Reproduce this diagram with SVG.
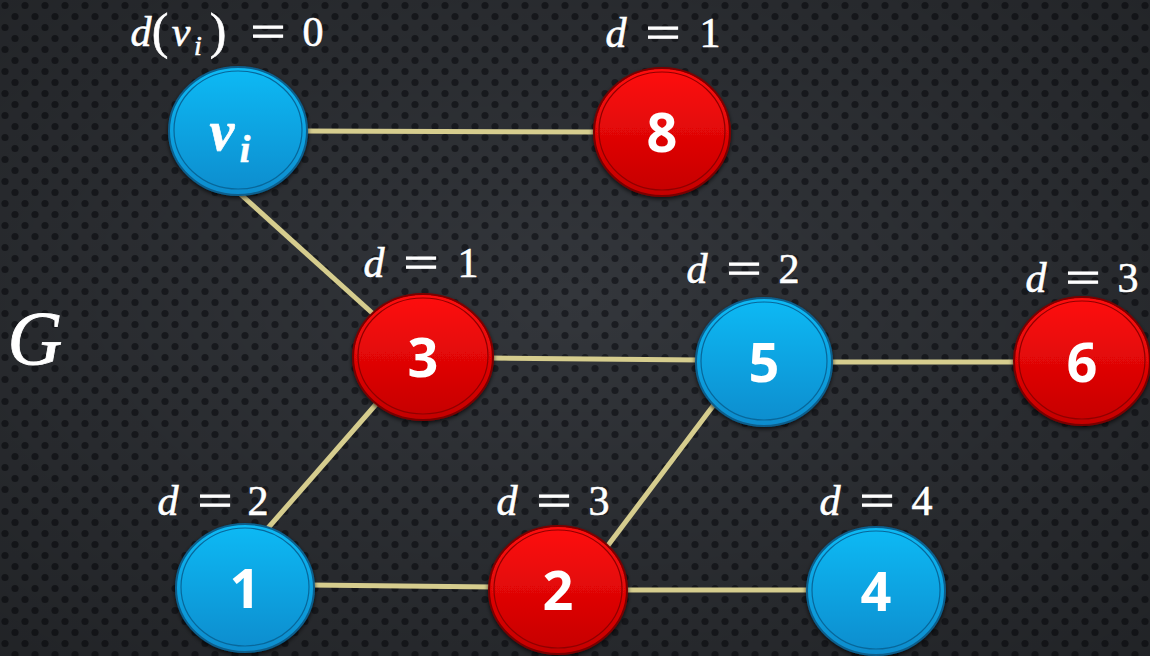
<svg xmlns="http://www.w3.org/2000/svg" width="1150" height="656" viewBox="0 0 1150 656">
<defs>
<pattern id="dots" width="20" height="22" patternUnits="userSpaceOnUse">
<rect width="20" height="22" fill="#33363b"/>
<circle cx="5" cy="5.5" r="3.6" fill="#1b1d22"/>
<circle cx="15" cy="16.5" r="3.6" fill="#1b1d22"/>
</pattern>
<radialGradient id="vig" cx="0.5" cy="0.45" r="0.75">
<stop offset="0" stop-color="#000" stop-opacity="0"/>
<stop offset="1" stop-color="#000" stop-opacity="0.35"/>
</radialGradient>
<linearGradient id="gb" x1="0" y1="0" x2="0" y2="1">
<stop offset="0" stop-color="#0dbaf5"/>
<stop offset="1" stop-color="#0a8ccd"/>
</linearGradient>
<linearGradient id="gr" x1="0" y1="0" x2="0" y2="1">
<stop offset="0" stop-color="#ff0d0d"/>
<stop offset="1" stop-color="#c40000"/>
</linearGradient>
<filter id="sh" x="-20%" y="-20%" width="140%" height="140%">
<feDropShadow dx="0" dy="2" stdDeviation="2" flood-color="#000" flood-opacity="0.7"/>
</filter>
</defs>
<style>
.edge{stroke:#d6cd8e;stroke-width:5;fill:none}
.blue .o{fill:url(#gb);stroke:#0b5f8c;stroke-width:2}
.blue .i{fill:none;stroke:#08679a;stroke-width:1.2}
.red .o{fill:url(#gr);stroke:#7a0000;stroke-width:2}
.red .i{fill:none;stroke:#8f0000;stroke-width:1.2}
.num{font-family:"Open Sans","Liberation Sans",sans-serif;font-weight:bold;font-size:54px;fill:#fff;text-anchor:middle}
.lab{font-family:"Liberation Serif",serif;font-size:42px;fill:#fff;stroke:#fff;stroke-width:0.6;text-anchor:middle}
.eq{font-size:46px;stroke-width:0.9}
.it{font-style:italic}
</style>
<rect width="1150" height="656" fill="url(#dots)"/>
<rect width="1150" height="656" fill="url(#vig)"/>
<g id="connectors">
<line class="edge" x1="300" y1="131" x2="600" y2="132"/>
<line class="edge" x1="238" y1="192" x2="380" y2="320"/>
<line class="edge" x1="490" y1="358" x2="700" y2="360"/>
<line class="edge" x1="830" y1="362" x2="1018" y2="362"/>
<line class="edge" x1="378" y1="402" x2="268" y2="528"/>
<line class="edge" x1="310" y1="585" x2="494" y2="587"/>
<line class="edge" x1="622" y1="590" x2="812" y2="590"/>
<line class="edge" x1="716" y1="402" x2="606" y2="548"/>
</g>
<g id="label-G"><text class="lab it" x="35" y="364" style="font-size:76px;stroke-width:0.8">G</text></g>
<g id="node-vi" class="blue">
<ellipse class="o" cx="238" cy="131" rx="69" ry="64" filter="url(#sh)"/>
<ellipse class="i" cx="238" cy="130" rx="64" ry="59"/>
<text class="lab it" x="222" y="150" style="font-size:56px;font-weight:bold">v</text>
<text class="lab it" x="245" y="162" style="font-size:38px;font-weight:bold">i</text>
<text class="lab it" x="141" y="46">d</text>
<text class="lab" x="160" y="48" style="font-size:50px">(</text>
<text class="lab it" x="181" y="46">v</text>
<text class="lab it" x="198" y="55" style="font-size:28px">i</text>
<text class="lab" x="218" y="48" style="font-size:50px">)</text>
<text class="lab eq" transform="translate(268,47) scale(1.35,1)">=</text>
<text class="lab" x="313" y="46">0</text>
</g>
<g id="node-8" class="red">
<ellipse class="o" cx="662" cy="132" rx="68" ry="64" filter="url(#sh)"/>
<ellipse class="i" cx="662" cy="131" rx="63" ry="59"/>
<text class="num" x="662" y="152">8</text>
<text class="lab it" x="616" y="47">d</text>
<text class="lab eq" transform="translate(663,48) scale(1.35,1)">=</text>
<text class="lab" x="710" y="47">1</text>
</g>
<g id="node-3" class="red">
<ellipse class="o" cx="423" cy="357" rx="70" ry="63" filter="url(#sh)"/>
<ellipse class="i" cx="423" cy="356" rx="65" ry="58"/>
<text class="num" x="423" y="377">3</text>
<text class="lab it" x="374" y="277">d</text>
<text class="lab eq" transform="translate(421,278) scale(1.35,1)">=</text>
<text class="lab" x="468" y="277">1</text>
</g>
<g id="node-5" class="blue">
<ellipse class="o" cx="764" cy="362" rx="68" ry="64" filter="url(#sh)"/>
<ellipse class="i" cx="764" cy="361" rx="63" ry="59"/>
<text class="num" x="764" y="382">5</text>
<text class="lab it" x="697" y="283">d</text>
<text class="lab eq" transform="translate(744,284) scale(1.35,1)">=</text>
<text class="lab" x="789" y="283">2</text>
</g>
<g id="node-6" class="red">
<ellipse class="o" cx="1082" cy="361" rx="68" ry="64" filter="url(#sh)"/>
<ellipse class="i" cx="1082" cy="360" rx="63" ry="59"/>
<text class="num" x="1082" y="382">6</text>
<text class="lab it" x="1036" y="292">d</text>
<text class="lab eq" transform="translate(1083,293) scale(1.35,1)">=</text>
<text class="lab" x="1128" y="292">3</text>
</g>
<g id="node-1" class="blue">
<ellipse class="o" cx="245" cy="588" rx="69" ry="64" filter="url(#sh)"/>
<ellipse class="i" cx="245" cy="587" rx="64" ry="59"/>
<text class="num" x="245" y="608">1</text>
<text class="lab it" x="168" y="515">d</text>
<text class="lab eq" transform="translate(215,516) scale(1.35,1)">=</text>
<text class="lab" x="258" y="515">2</text>
</g>
<g id="node-2" class="red">
<ellipse class="o" cx="558" cy="590" rx="69" ry="64" filter="url(#sh)"/>
<ellipse class="i" cx="558" cy="589" rx="64" ry="59"/>
<text class="num" x="558" y="610">2</text>
<text class="lab it" x="507" y="515">d</text>
<text class="lab eq" transform="translate(554,516) scale(1.35,1)">=</text>
<text class="lab" x="599" y="515">3</text>
</g>
<g id="node-4" class="blue">
<ellipse class="o" cx="876" cy="591" rx="69" ry="64" filter="url(#sh)"/>
<ellipse class="i" cx="876" cy="590" rx="64" ry="59"/>
<text class="num" x="876" y="611">4</text>
<text class="lab it" x="830" y="515">d</text>
<text class="lab eq" transform="translate(877,516) scale(1.35,1)">=</text>
<text class="lab" x="922" y="515">4</text>
</g>
</svg>
